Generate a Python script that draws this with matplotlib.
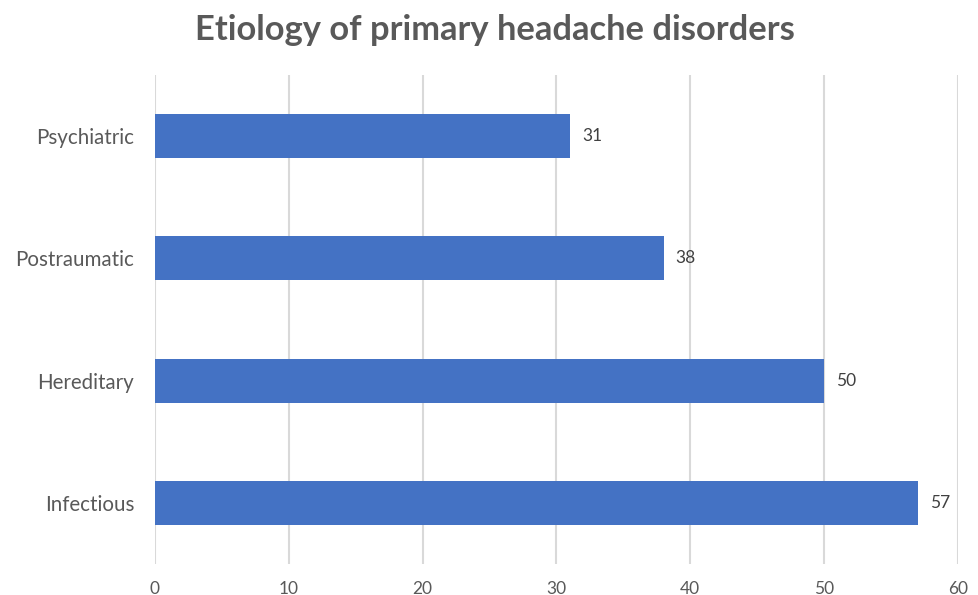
import matplotlib
matplotlib.use("Agg")
import matplotlib.pyplot as plt

categories = ["Infectious", "Hereditary", "Postraumatic", "Psychiatric"]
values = [57, 50, 38, 31]
x_ticks = [0, 10, 20, 30, 40, 50, 60]

plt.rcParams["font.family"] = ["Lato", "DejaVu Sans"]

fig = plt.figure(figsize=(9.79, 5.95), dpi=100)
ax = fig.add_axes([0.1583, 0.0521, 0.8202, 0.8219])

bars = ax.barh(range(len(categories)), values, height=0.36, color="#4472C4", zorder=3)
for rect, v in zip(bars, values):
    ax.text(rect.get_width() + 0.9, rect.get_y() + rect.get_height() / 2, str(v),
            va="center", ha="left", fontsize=12.5, color="#404040")

ax.set_xlim(0, 60)
ax.set_ylim(-0.5, len(categories) - 0.5)
ax.set_xticks(x_ticks)
ax.set_yticks(range(len(categories)))
ax.set_yticklabels(categories)
ax.tick_params(axis="y", length=0, pad=15, labelsize=14.8, labelcolor="#595959")
ax.tick_params(axis="x", length=0, pad=12, labelsize=12.5, labelcolor="#595959")
ax.grid(True, axis="x", color="#D9D9D9", linewidth=1.5, zorder=0)
for s in ax.spines.values():
    s.set_visible(False)

fig.text(0.506, 0.95, "Etiology of primary headache disorders", ha="center", va="center",
         fontsize=24.8, fontweight="bold", color="#595959")

fig.savefig("out.png", dpi=100)
